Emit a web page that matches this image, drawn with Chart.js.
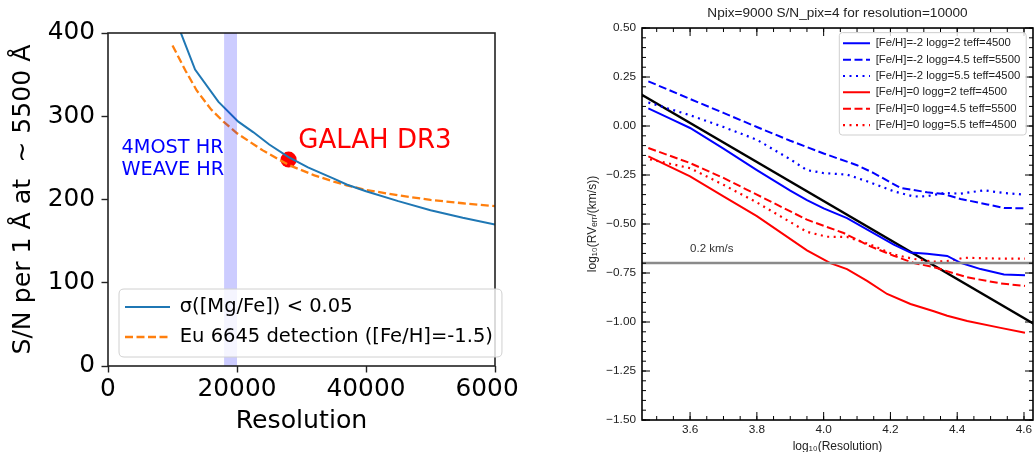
<!DOCTYPE html>
<html><head><meta charset="utf-8">
<script src="https://cdn.jsdelivr.net/npm/chart.js@4.4.0/dist/chart.umd.min.js"></script>
<style>
html,body{margin:0;padding:0;background:#fff;}
body{width:1035px;height:452px;overflow:hidden;position:relative;}
#w1{position:absolute;left:0;top:0;width:519px;height:452px;}
#w2{position:absolute;left:560px;top:0;width:475px;height:460px;}
</style></head><body>
<div id="w1"><canvas id="c1" width="519" height="452"></canvas></div>
<div id="w2"><canvas id="c2" width="475" height="460"></canvas></div>
<script>
// ---------- LEFT PANEL DATA ----------
const mgfeRes = [11000, 13500, 17100, 20200, 22500, 25000, 28000, 31000, 35000, 37000, 40000, 45000, 50000, 55000, 60000];
const mgfeSN  = [406, 356, 317.5, 293.5, 281, 266, 251, 238.5, 225, 218, 210, 198, 187, 178, 170];
const euRes = [10000, 12000, 13750, 16000, 17900, 20000, 24000, 28000, 32000, 35000, 37000, 40000, 45000, 50000, 55000, 60000];
const euSN  = [385, 355, 331, 308, 293.5, 279.5, 259, 241.5, 229, 221.5, 217, 211.5, 205, 199.5, 195.5, 192];
const bandRes = [18000, 20000];
const bandTop = [400, 400];
const galahRes = [28000];
const galahSN = [248];
const leftXTicks = [0, 20000, 40000, 60000];
const leftYTicks = [0, 100, 200, 300, 400];

// ---------- RIGHT PANEL DATA ----------
const m2g2X = [3.475, 3.55, 3.6, 3.7, 3.8, 3.9, 3.95, 4.0, 4.07, 4.14, 4.21, 4.26, 4.31, 4.37, 4.41, 4.47, 4.54, 4.603];
const m2g2Y = [0.09, 0.03, -0.01, -0.115, -0.225, -0.33, -0.378, -0.42, -0.47, -0.537, -0.605, -0.645, -0.652, -0.663, -0.698, -0.73, -0.758, -0.762];
const m2g45X = [3.475, 3.6, 3.7, 3.8, 3.9, 4.0, 4.1, 4.15, 4.23, 4.31, 4.36, 4.41, 4.49, 4.54, 4.603];
const m2g45Y = [0.228, 0.138, 0.067, -0.005, -0.075, -0.14, -0.2, -0.24, -0.316, -0.338, -0.347, -0.372, -0.40, -0.418, -0.42];
const m2g55X = [3.475, 3.6, 3.7, 3.8, 3.9, 3.95, 4.0, 4.07, 4.13, 4.21, 4.27, 4.31, 4.36, 4.41, 4.48, 4.54, 4.603];
const m2g55Y = [0.12, 0.055, -0.005, -0.07, -0.17, -0.225, -0.24, -0.248, -0.282, -0.333, -0.36, -0.358, -0.342, -0.345, -0.328, -0.342, -0.35];
const z0g2X = [3.475, 3.6, 3.7, 3.8, 3.95, 4.02, 4.07, 4.13, 4.19, 4.26, 4.33, 4.37, 4.43, 4.53, 4.603];
const z0g2Y = [-0.155, -0.257, -0.359, -0.46, -0.634, -0.70, -0.73, -0.79, -0.857, -0.908, -0.945, -0.968, -0.995, -1.03, -1.055];
const z0g45X = [3.475, 3.6, 3.7, 3.8, 3.95, 4.06, 4.14, 4.21, 4.27, 4.33, 4.43, 4.53, 4.603];
const z0g45Y = [-0.112, -0.189, -0.265, -0.35, -0.478, -0.546, -0.614, -0.662, -0.699, -0.72, -0.772, -0.803, -0.816];
const z0g55X = [3.48, 3.6, 3.7, 3.8, 3.9, 3.95, 4.01, 4.07, 4.14, 4.21, 4.27, 4.33, 4.38, 4.42, 4.51, 4.603];
const z0g55Y = [-0.17, -0.215, -0.30, -0.39, -0.49, -0.54, -0.565, -0.566, -0.605, -0.656, -0.678, -0.692, -0.688, -0.672, -0.676, -0.677];
const refLineX = [3.45, 4.63];
const refLineY = [0.165, -1.01];
const limitX = [3.456, 4.627];
const limitY = [-0.699, -0.699];
const rightXTicks = [3.6, 3.8, 4.0, 4.2, 4.4, 4.6];
const rightYTicks = [-1.5, -1.25, -1.0, -0.75, -0.5, -0.25, 0.0, 0.25, 0.5];
const rightXMinor = []; for (let k = 69; k <= 93; k++) rightXMinor.push(k / 20);
const rightYMinor = []; for (let k = -30; k <= 10; k++) rightYMinor.push(k / 20);

const pts = (xs, ys) => xs.map((x, i) => ({x, y: ys[i]}));

// ---------- PLUGINS ----------
const frameBox = {
  id: 'frameBox',
  afterDatasetsDraw(chart, args, o) {
    const {ctx, chartArea: a} = chart;
    ctx.save(); ctx.strokeStyle = o.color; ctx.lineWidth = o.width;
    ctx.strokeRect(a.left, a.top, a.right - a.left, a.bottom - a.top);
    ctx.restore();
  }
};
const textNotes = {
  id: 'textNotes',
  afterDatasetsDraw(chart, args, o) {
    const {ctx, scales: {x, y}} = chart;
    ctx.save();
    (o.items || []).forEach(it => {
      ctx.font = it.font; ctx.fillStyle = it.color;
      ctx.textAlign = 'left'; ctx.textBaseline = 'alphabetic';
      ctx.fillText(it.text, x.getPixelForValue(it.x), y.getPixelForValue(it.y));
    });
    ctx.restore();
  }
};
const inTicks = {
  id: 'inTicks',
  afterDatasetsDraw(chart, args, o) {
    const {ctx, chartArea: a, scales: {x, y}} = chart;
    ctx.save(); ctx.strokeStyle = o.color; ctx.lineWidth = o.width;
    ctx.beginPath();
    const seg = (x1, y1, x2, y2) => { ctx.moveTo(x1, y1); ctx.lineTo(x2, y2); };
    const doX = (v, L) => { if (v < x.min || v > x.max) return; const p = x.getPixelForValue(v); seg(p, a.bottom, p, a.bottom - L); seg(p, a.top, p, a.top + L); };
    const doY = (v, L) => { if (v < y.min || v > y.max) return; const p = y.getPixelForValue(v); seg(a.left, p, a.left + L, p); seg(a.right, p, a.right - L, p); };
    o.xMinor.forEach(v => doX(v, o.minor));
    o.yMinor.forEach(v => doY(v, o.minor));
    x.ticks.forEach(t => doX(t.value, o.major));
    y.ticks.forEach(t => doY(t.value, o.major));
    ctx.stroke(); ctx.restore();
  }
};
const legendBox = {
  id: 'legendBox',
  beforeLayout(chart) {
    const lg = chart.legend; if (!lg) return;
    lg._layers = () => [{ z: 1, draw: (ca) => lg.draw(ca) }];
  },
  afterLayout(chart, args, o) {
    const lg = chart.legend; if (!lg) return;
    const pad = lg.options.labels.padding;
    lg.left = o.itemX - pad; lg.top = o.rowTop - pad;
    lg.right = lg.left + 600; lg.bottom = lg.top + 600;
  },
  afterDatasetsDraw(chart, args, o) {
    const lg = chart.legend; if (!lg) return;
    const {ctx} = chart;
    const lo = lg.options.labels;
    const f = lo.font; const fs = f.size;
    ctx.save();
    ctx.font = fs + 'px ' + f.family;
    const items = lg.legendItems || [];
    let w = 0; items.forEach(it => { w = Math.max(w, ctx.measureText(it.text).width); });
    const n = items.length;
    const L = o.itemX - o.fx0;
    const R = o.itemX + lo.pointStyleWidth + fs / 2 + w + o.fx1;
    const T = o.rowTop - o.fy0;
    const B = o.rowTop + n * (fs + lo.padding) - lo.padding + o.fy1;
    const r = o.radius;
    ctx.beginPath();
    ctx.moveTo(L + r, T); ctx.lineTo(R - r, T); ctx.quadraticCurveTo(R, T, R, T + r);
    ctx.lineTo(R, B - r); ctx.quadraticCurveTo(R, B, R - r, B);
    ctx.lineTo(L + r, B); ctx.quadraticCurveTo(L, B, L, B - r);
    ctx.lineTo(L, T + r); ctx.quadraticCurveTo(L, T, L + r, T);
    ctx.closePath();
    ctx.fillStyle = 'rgba(255,255,255,0.8)'; ctx.fill();
    ctx.strokeStyle = o.border; ctx.lineWidth = 1; ctx.stroke();
    ctx.restore();
  }
};
const legendLabels = (color) => (chart) => chart.data.datasets
  .map((ds, i) => ({ds, i})).filter(o => o.ds.label)
  .map(({ds, i}) => ({
    text: ds.label, strokeStyle: ds.borderColor, fillStyle: ds.borderColor,
    lineWidth: ds.borderWidth, lineDash: ds.borderDash || [], lineCap: 'butt',
    pointStyle: 'line', datasetIndex: i, hidden: false, fontColor: color
  }));

// ---------- LEFT CHART ----------
const LF = 'DejaVu Sans';
new Chart(document.getElementById('c1'), {
  type: 'line',
  data: {
    datasets: [
      { data: pts(bandRes, bandTop), fill: 'origin', backgroundColor: 'rgba(0,0,255,0.2)', borderColor: 'rgba(0,0,255,0.22)', borderWidth: 1, pointRadius: 0 },
      { label: 'σ([Mg/Fe]) < 0.05', data: pts(mgfeRes, mgfeSN), borderColor: '#1f77b4', borderWidth: 2, pointRadius: 0, fill: false },
      { label: 'Eu 6645 detection ([Fe/H]=-1.5)', data: pts(euRes, euSN), borderColor: '#ff7f0e', borderWidth: 2.3, borderDash: [8, 3.5], pointRadius: 0, fill: false },
      { data: pts(galahRes, galahSN), showLine: false, pointRadius: 8, pointBackgroundColor: '#ff0000', pointBorderColor: '#ff0000', pointBorderWidth: 0, borderColor: '#ff0000' }
    ]
  },
  options: {
    responsive: false, animation: false, devicePixelRatio: 1, events: [],
    layout: { padding: { left: 0, top: 33, right: 24, bottom: 0 } },
    scales: {
      x: {
        type: 'linear', min: 0, max: 60000,
        afterBuildTicks: s => { s.ticks = leftXTicks.map(v => ({value: v})); },
        afterFit: s => { s.height = 86; s.paddingLeft = 0; s.paddingRight = 0; },
        ticks: { callback: v => String(v), font: { family: LF, size: 24.8 }, color: '#000', padding: 2, maxRotation: 0, autoSkip: false },
        grid: { drawOnChartArea: false, tickLength: 6.5, tickColor: '#222', tickWidth: 1.4 },
        border: { display: false },
        title: { display: true, text: 'Resolution', font: { family: LF, size: 25.2 }, color: '#000', padding: { top: 0, bottom: 15 } }
      },
      y: {
        type: 'linear', min: 0, max: 400,
        afterBuildTicks: s => { s.ticks = leftYTicks.map(v => ({value: v})); },
        afterFit: s => { s.width = 108; s.paddingTop = 0; s.paddingBottom = 0; },
        ticks: { callback: v => String(v), font: { family: LF, size: 24.8 }, color: '#000', padding: 6.5 },
        grid: { drawOnChartArea: false, tickLength: 6.5, tickColor: '#222', tickWidth: 1.4 },
        border: { display: false },
        title: { display: true, text: 'S/N per 1 Å at  ∼ 5500 Å', font: { family: LF, size: 25.2 }, color: '#000', padding: { top: 8, bottom: 0 } }
      }
    },
    plugins: {
      legend: {
        display: true, position: 'chartArea', align: 'start',
        labels: { usePointStyle: true, pointStyle: 'line', pointStyleWidth: 45, padding: 10.5, font: { family: LF, size: 19.5 }, color: '#000', generateLabels: legendLabels('#000') }
      },
      legendBox: { itemX: 125, rowTop: 297.25, fx0: 6, fx1: 9, fy0: 8.25, fy1: 10.25, radius: 5, border: '#d0d0d0' },
      frameBox: { color: '#222', width: 1.6 },
      textNotes: { items: [
        { text: 'GALAH DR3', x: 29500, y: 262, color: '#ff0000', font: '26px ' + LF },
        { text: '4MOST HR', x: 2100, y: 256, color: '#0000ff', font: '19.3px ' + LF },
        { text: 'WEAVE HR', x: 2100, y: 229, color: '#0000ff', font: '19.3px ' + LF }
      ] },
      tooltip: { enabled: false }
    }
  },
  plugins: [frameBox, textNotes, legendBox]
});

// ---------- RIGHT CHART ----------
const RF = 'Liberation Sans';
const fmtY = v => (v < 0 ? '\u2212' : '') + Math.abs(v).toFixed(2);
const DASH = [8, 3.5], DOT = [2, 4.5];
new Chart(document.getElementById('c2'), {
  type: 'line',
  data: {
    datasets: [
      { data: pts(limitX, limitY), borderColor: '#8a8a8a', borderWidth: 2.5, pointRadius: 0, fill: false },
      { label: '[Fe/H]=-2 logg=2 teff=4500', data: pts(m2g2X, m2g2Y), borderColor: '#0000ff', borderWidth: 2, pointRadius: 0, fill: false },
      { label: '[Fe/H]=-2 logg=4.5 teff=5500', data: pts(m2g45X, m2g45Y), borderColor: '#0000ff', borderWidth: 2, borderDash: DASH, pointRadius: 0, fill: false },
      { label: '[Fe/H]=-2 logg=5.5 teff=4500', data: pts(m2g55X, m2g55Y), borderColor: '#0000ff', borderWidth: 2.2, borderDash: DOT, pointRadius: 0, fill: false },
      { label: '[Fe/H]=0 logg=2 teff=4500', data: pts(z0g2X, z0g2Y), borderColor: '#ff0000', borderWidth: 2, pointRadius: 0, fill: false },
      { label: '[Fe/H]=0 logg=4.5 teff=5500', data: pts(z0g45X, z0g45Y), borderColor: '#ff0000', borderWidth: 2, borderDash: DASH, pointRadius: 0, fill: false },
      { label: '[Fe/H]=0 logg=5.5 teff=4500', data: pts(z0g55X, z0g55Y), borderColor: '#ff0000', borderWidth: 2.2, borderDash: DOT, pointRadius: 0, fill: false },
      { data: pts(refLineX, refLineY), borderColor: '#000000', borderWidth: 2.4, pointRadius: 0, fill: false }
    ]
  },
  options: {
    responsive: false, animation: false, devicePixelRatio: 1, events: [],
    layout: { padding: { left: 0, top: 0, right: 2, bottom: 0 } },
    scales: {
      x: {
        type: 'linear', min: 3.456, max: 4.627,
        afterBuildTicks: s => { s.ticks = rightXTicks.map(v => ({value: v})); },
        afterFit: s => { s.height = 40; s.paddingLeft = 0; s.paddingRight = 0; },
        ticks: { callback: v => v.toFixed(1), font: { family: RF, size: 11.8 }, color: '#222', padding: 3, maxRotation: 0, autoSkip: false },
        grid: { display: false, drawTicks: false },
        border: { display: false },
        title: { display: true, text: 'log₁₀(Resolution)', font: { family: RF, size: 12 }, color: '#222', padding: { top: 0, bottom: 6 } }
      },
      y: {
        type: 'linear', min: -1.5, max: 0.5,
        afterBuildTicks: s => { s.ticks = rightYTicks.map(v => ({value: v})); },
        afterFit: s => { s.width = 82; s.paddingTop = 0; s.paddingBottom = 0; },
        ticks: { callback: fmtY, font: { family: RF, size: 11.8 }, color: '#222', padding: 6, autoSkip: false },
        grid: { display: false, drawTicks: false },
        border: { display: false },
        title: { display: true, text: 'log₁₀(RVₑᵣᵣ/(km/s))', font: { family: RF, size: 12 }, color: '#222', padding: { top: 25, bottom: 0 } }
      }
    },
    plugins: {
      title: { display: true, text: 'Npix=9000 S/N_pix=4 for resolution=10000', fullSize: false, font: { family: RF, size: 13.6, weight: 'normal' }, color: '#222', padding: { top: 5.2, bottom: 6.5 } },
      legend: {
        display: true, position: 'chartArea', align: 'start',
        labels: { usePointStyle: true, pointStyle: 'line', pointStyleWidth: 27, padding: 5.05, font: { family: RF, size: 11.3 }, color: '#222', generateLabels: legendLabels('#222') }
      },
      legendBox: { itemX: 283, rowTop: 37.65, fx0: 3.7, fx1: 6, fy0: 5, fy1: 4.3, radius: 3, border: '#cfcfcf' },
      frameBox: { color: '#000', width: 1.6 },
      inTicks: { color: '#000', width: 1, major: 8, minor: 4, xMinor: rightXMinor, yMinor: rightYMinor },
      textNotes: { items: [
        { text: '0.2 km/s', x: 3.6, y: -0.644, color: '#333', font: '11.5px ' + RF }
      ] },
      tooltip: { enabled: false }
    }
  },
  plugins: [frameBox, inTicks, textNotes, legendBox]
});
</script>
</body></html>
